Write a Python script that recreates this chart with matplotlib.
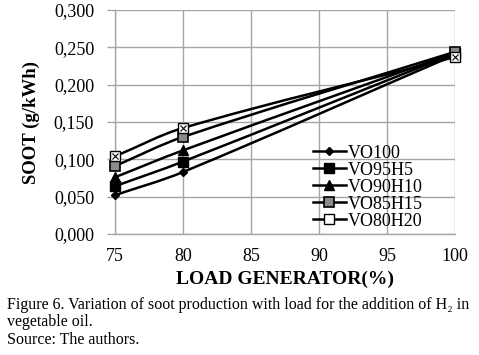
import matplotlib
matplotlib.use("Agg")
import matplotlib.pyplot as plt
from matplotlib.path import Path
from matplotlib.patches import PathPatch
from matplotlib.lines import Line2D
from matplotlib.ticker import FuncFormatter

plt.rcParams['font.family'] = ['Liberation Serif', 'DejaVu Serif']

load = [75, 80, 100]
series_names = ["VO100", "VO95H5", "VO90H10", "VO85H15", "VO80H20"]
vo100 = [0.052, 0.083, 0.240]
vo95h5 = [0.064, 0.097, 0.242]
vo90h10 = [0.076, 0.112, 0.243]
vo85h15 = [0.091, 0.130, 0.244]
vo80h20 = [0.104, 0.142, 0.237]
x_ticks = [75, 80, 85, 90, 95, 100]
y_ticks = [0.0, 0.05, 0.10, 0.15, 0.20, 0.25, 0.30]

series = [vo100, vo95h5, vo90h10, vo85h15, vo80h20]
styles = [
    dict(marker='D', ms=4, mfc='black', mec='black'),
    dict(marker='s', ms=7, mfc='black', mec='black'),
    dict(marker='^', ms=6.5, mfc='black', mec='black'),
    dict(marker='s', ms=7, mfc='#8a8a8a', mec='black', mew=1.2),
    dict(marker='s', ms=7, mfc='white', mec='black', mew=1.0),
]

fig = plt.figure(figsize=(4.79, 3.55), dpi=100)
ax = fig.add_axes([115 / 479, 121 / 355, 340 / 479, 224 / 355])


def smooth_path(xs, ys):
    n = len(xs)
    slopes = []
    for i in range(n):
        a = max(i - 1, 0)
        b = min(i + 1, n - 1)
        slopes.append((ys[b] - ys[a]) / (xs[b] - xs[a]))
    verts = [(xs[0], ys[0])]
    codes = [Path.MOVETO]
    for i in range(n - 1):
        h = (xs[i + 1] - xs[i]) / 3
        c1 = (xs[i] + h, ys[i] + slopes[i] * h)
        c2 = (xs[i + 1] - h, ys[i + 1] - slopes[i + 1] * h)
        verts += [c1, c2, (xs[i + 1], ys[i + 1])]
        codes += [Path.CURVE4] * 3
    return Path(verts, codes)


handles = []
for name, ys, st in zip(series_names, series, styles):
    patch = PathPatch(smooth_path(load, ys), fill=False, edgecolor='black',
                      lw=1.8, zorder=3)
    ax.add_patch(patch)
    ax.plot(load, ys, linestyle='none', zorder=4, clip_on=False, **st)
    if name == "VO80H20":
        ax.plot(load, ys, linestyle='none', marker='x', ms=4, mec='black',
                mew=0.8, zorder=5, clip_on=False)
    handles.append(Line2D([], [], color='black', lw=1.8, **st))

ax.set_xlim(75, 100)
ax.set_ylim(0, 0.3)
ax.set_xticks(x_ticks)
ax.set_yticks(y_ticks)
ax.yaxis.set_major_formatter(FuncFormatter(lambda v, p: f"{v:.3f}".replace('.', ',')))
ax.grid(True, color='#a6a6a6', lw=1.0)
ax.set_axisbelow(True)
for s in ['top', 'right']:
    ax.spines[s].set_visible(False)
for s in ['left', 'bottom']:
    ax.spines[s].set_color('#a6a6a6')
    ax.spines[s].set_linewidth(1.0)
ax.tick_params(axis='both', colors='#a6a6a6', width=1.0,
               labelcolor='black', labelsize=13)
ax.tick_params(axis='x', length=0, pad=10)
ax.tick_params(axis='y', length=6, pad=9)

ax.set_xlabel("LOAD GENERATOR(%)", fontsize=14, fontweight='bold', labelpad=4)
ax.set_ylabel("SOOT (g/kWh)", fontsize=13.5, fontweight='bold', labelpad=10)

leg = ax.legend(handles, series_names, loc='lower left',
                bbox_to_anchor=((313 - 115) / 340, 0.02), frameon=False,
                fontsize=13, handlelength=1.8, handletextpad=0.15,
                labelspacing=0.0, borderaxespad=0.0, borderpad=0.0)

cap = dict(fontsize=11.5, va='center', ha='left', transform=None)
fig.text(7, 355 - 305, "Figure 6. Variation of soot production with load for the addition of H\u2082 in", **cap)
fig.text(7, 355 - 322, "vegetable oil.", **cap)
fig.text(7, 355 - 340, "Source: The authors.", **cap)

fig.savefig("out.png", dpi=100)
